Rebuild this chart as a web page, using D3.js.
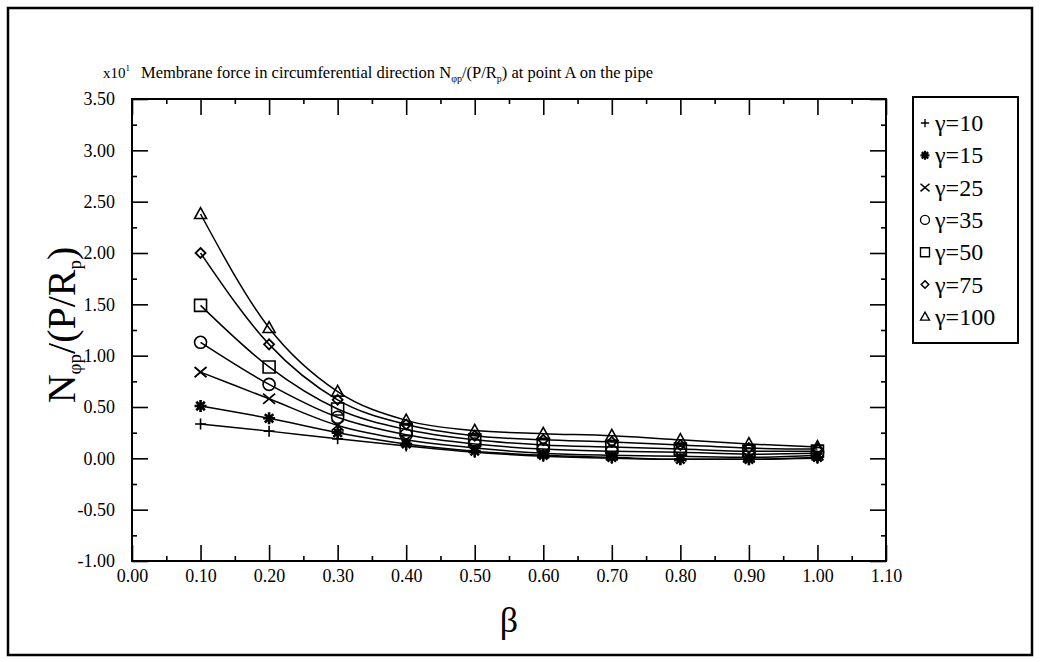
<!DOCTYPE html>
<html>
<head>
<meta charset="utf-8">
<script src="https://cdn.jsdelivr.net/npm/d3@7"></script>
<style>
  html, body { margin: 0; padding: 0; background: #fff; }
  svg { display: block; }
  text { font-family: "Liberation Serif", "Times New Roman", serif; fill: #000; }
</style>
</head>
<body>
<svg id="chart" width="1040" height="662"></svg>
<script>
// Non-dimensional parameter beta (x axis)
const beta = [0.1, 0.2, 0.3, 0.4, 0.5, 0.6, 0.7, 0.8, 0.9, 1.0];

// Membrane force N_phi_p/(P/R_p), in units of x10^1, one list per gamma
const gamma10  = [0.335, 0.265, 0.19, 0.12, 0.06, 0.02, 0.00, -0.01, -0.01, 0.00];
const gamma15  = [0.51, 0.39, 0.25, 0.14, 0.07, 0.03, 0.01, -0.01, -0.01, 0.01];
const gamma25  = [0.84, 0.58, 0.32, 0.18, 0.10, 0.05, 0.03, 0.02, 0.01, 0.03];
const gamma35  = [1.13, 0.72, 0.40, 0.23, 0.14, 0.09, 0.07, 0.06, 0.04, 0.05];
const gamma50  = [1.49, 0.89, 0.48, 0.28, 0.18, 0.13, 0.11, 0.09, 0.07, 0.07];
const gamma75  = [2.00, 1.11, 0.57, 0.33, 0.22, 0.18, 0.16, 0.13, 0.10, 0.09];
const gamma100 = [2.38, 1.27, 0.65, 0.37, 0.27, 0.24, 0.22, 0.18, 0.14, 0.11];

const seriesNames = ["\u03b3=10", "\u03b3=15", "\u03b3=25", "\u03b3=35", "\u03b3=50", "\u03b3=75", "\u03b3=100"];
const seriesValues = [gamma10, gamma15, gamma25, gamma35, gamma50, gamma75, gamma100];
const seriesMarkers = ["plus", "asterisk", "cross", "circle", "square", "diamond", "triangle"];

// Tick labels
const xTicks = [0.0, 0.1, 0.2, 0.3, 0.4, 0.5, 0.6, 0.7, 0.8, 0.9, 1.0, 1.1];
const xMinorTicks = [0.05, 0.15, 0.25, 0.35, 0.45, 0.55, 0.65, 0.75, 0.85, 0.95, 1.05];
const yTicks = [-1.0, -0.5, 0.0, 0.5, 1.0, 1.5, 2.0, 2.5, 3.0, 3.5];
const yMinorTicks = [-0.75, -0.25, 0.25, 0.75, 1.25, 1.75, 2.25, 2.75, 3.25];

const svg = d3.select("#chart");
const W = 1040, H = 662;
const plot = { left: 132, right: 886, top: 99, bottom: 561 };
const serif = "'Liberation Serif', 'Times New Roman', serif";

svg.append("rect").attr("width", W).attr("height", H).attr("fill", "#fff");
// outer frame
svg.append("rect").attr("x", 8).attr("y", 8).attr("width", 1024).attr("height", 647)
  .attr("fill", "none").attr("stroke", "#000").attr("stroke-width", 2.5);

const x = d3.scaleLinear().domain([0, 1.1]).range([plot.left, plot.right]);
const y = d3.scaleLinear().domain([-1, 3.5]).range([plot.bottom, plot.top]);
const fmt = v => d3.format(".2f")(v).replace("\u2212", "-");

function styleAxis(g) {
  g.attr("font-family", serif).attr("font-size", 18);
  g.selectAll(".domain").remove();
  g.selectAll(".tick line").attr("stroke", "#000").attr("stroke-width", 1.6);
  g.selectAll(".tick text").attr("fill", "#000");
}

// major and minor ticks on all four sides, pointing inward
const axes = svg.append("g");
axes.append("g").attr("transform", `translate(${plot.left},0)`)
  .call(d3.axisLeft(y).tickValues(yTicks).tickSize(-16).tickPadding(17).tickFormat(fmt)).call(styleAxis);
axes.append("g").attr("transform", `translate(${plot.left},0)`)
  .call(d3.axisLeft(y).tickValues(yMinorTicks).tickSize(-5).tickFormat("")).call(styleAxis);
axes.append("g").attr("transform", `translate(${plot.right},0)`)
  .call(d3.axisRight(y).tickValues(yTicks).tickSize(-16).tickFormat("")).call(styleAxis);
axes.append("g").attr("transform", `translate(${plot.right},0)`)
  .call(d3.axisRight(y).tickValues(yMinorTicks).tickSize(-5).tickFormat("")).call(styleAxis);
axes.append("g").attr("transform", `translate(0,${plot.bottom})`)
  .call(d3.axisBottom(x).tickValues(xTicks).tickSize(-16).tickPadding(8).tickFormat(fmt)).call(styleAxis);
axes.append("g").attr("transform", `translate(0,${plot.bottom})`)
  .call(d3.axisBottom(x).tickValues(xMinorTicks).tickSize(-5).tickFormat("")).call(styleAxis);
axes.append("g").attr("transform", `translate(0,${plot.top})`)
  .call(d3.axisTop(x).tickValues(xTicks).tickSize(-16).tickFormat("")).call(styleAxis);
axes.append("g").attr("transform", `translate(0,${plot.top})`)
  .call(d3.axisTop(x).tickValues(xMinorTicks).tickSize(-5).tickFormat("")).call(styleAxis);

// plot frame
svg.append("rect").attr("x", plot.left).attr("y", plot.top)
  .attr("width", plot.right - plot.left).attr("height", plot.bottom - plot.top)
  .attr("fill", "none").attr("stroke", "#000").attr("stroke-width", 2);

// marker shapes, centred on the origin
function markerPath(type, r) {
  const p = d3.path();
  switch (type) {
    case "plus":
      p.moveTo(-r, 0); p.lineTo(r, 0); p.moveTo(0, -r); p.lineTo(0, r); break;
    case "cross":
      p.moveTo(-r, -r * 0.85); p.lineTo(r, r * 0.85); p.moveTo(-r, r * 0.85); p.lineTo(r, -r * 0.85); break;
    case "asterisk":
      for (let i = 0; i < 4; i++) {
        const a = i * Math.PI / 4;
        p.moveTo(-r * Math.cos(a), -r * Math.sin(a)); p.lineTo(r * Math.cos(a), r * Math.sin(a));
      }
      break;
    case "circle":
      p.moveTo(r, 0); p.arc(0, 0, r, 0, 2 * Math.PI); break;
    case "square":
      p.rect(-r, -r, 2 * r, 2 * r); break;
    case "diamond":
      p.moveTo(0, -r); p.lineTo(r, 0); p.lineTo(0, r); p.lineTo(-r, 0); p.closePath(); break;
    case "triangle":
      p.moveTo(0, -r * 1.05); p.lineTo(r, r * 0.75); p.lineTo(-r, r * 0.75); p.closePath(); break;
  }
  return p.toString();
}
const markerSize = { plus: 5.5, asterisk: 6, cross: 6, circle: 6, square: 6, diamond: 5, triangle: 6 };
const markerStroke = { plus: 1.6, asterisk: 2.6, cross: 1.8, circle: 1.6, square: 1.6, diamond: 1.8, triangle: 1.6 };

const line = d3.line().x((d, i) => x(beta[i])).y(d => y(d)).curve(d3.curveMonotoneX);

const series = svg.append("g");
seriesValues.forEach(vals => {
  series.append("path").attr("d", line(vals))
    .attr("fill", "none").attr("stroke", "#000").attr("stroke-width", 1.5);
});
seriesValues.forEach((vals, k) => {
  const m = seriesMarkers[k];
  series.append("g").selectAll("path").data(vals).join("path")
    .attr("transform", (d, i) => `translate(${x(beta[i])},${y(d)})`)
    .attr("d", markerPath(m, markerSize[m]))
    .attr("fill", "none").attr("stroke", "#000").attr("stroke-width", markerStroke[m]);
});

// legend
const lg = svg.append("g");
lg.append("rect").attr("x", 913).attr("y", 97).attr("width", 105).attr("height", 246)
  .attr("fill", "#fff").attr("stroke", "#000").attr("stroke-width", 2);
seriesNames.forEach((name, k) => {
  const cy = 123 + k * 32.3;
  const m = seriesMarkers[k];
  lg.append("path").attr("transform", `translate(925,${cy})`)
    .attr("d", markerPath(m, markerSize[m] * 0.75))
    .attr("fill", "none").attr("stroke", "#000").attr("stroke-width", markerStroke[m] * 0.85);
  lg.append("text").attr("x", 935).attr("y", cy + 8)
    .attr("font-family", serif).attr("font-size", 24).text(name);
});

// title
const title = svg.append("text").attr("x", 141).attr("y", 78)
  .attr("font-family", serif).attr("font-size", 16.5);
title.append("tspan").text("Membrane force in circumferential direction N");
title.append("tspan").attr("dy", 4).attr("font-size", 10).text("\u03c6p");
title.append("tspan").attr("dy", -4).text("/(P/R");
title.append("tspan").attr("dy", 4).attr("font-size", 10).text("p");
title.append("tspan").attr("dy", -4).text(") at point A on the pipe");

const sci = svg.append("text").attr("x", 103).attr("y", 78)
  .attr("font-family", serif).attr("font-size", 15);
sci.append("tspan").text("x10");
sci.append("tspan").attr("dy", -7).attr("font-size", 9).text("1");

// y axis title
const yt = svg.append("text")
  .attr("transform", `translate(75,${(plot.top + plot.bottom) / 2 - 5}) rotate(-90)`)
  .attr("text-anchor", "middle").attr("font-family", serif).attr("font-size", 40);
yt.append("tspan").text("N");
yt.append("tspan").attr("dy", 6).attr("font-size", 19).text("\u03c6p");
yt.append("tspan").attr("dy", -6).text("/(P/R");
yt.append("tspan").attr("dy", 6).attr("font-size", 19).text("p");
yt.append("tspan").attr("dy", -6).text(")");

// x axis title
svg.append("text").attr("x", (plot.left + plot.right) / 2).attr("y", 632)
  .attr("text-anchor", "middle").attr("font-family", serif).attr("font-size", 36).text("\u03b2");
</script>
</body>
</html>
